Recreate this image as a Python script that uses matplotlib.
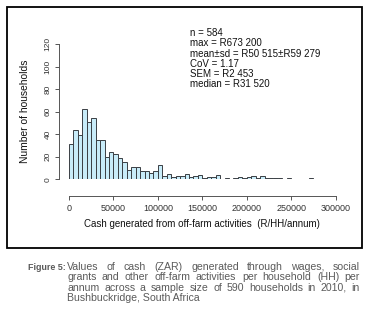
import matplotlib
matplotlib.use("Agg")
import matplotlib.pyplot as plt
from matplotlib.patches import Rectangle
import numpy as np

W, H = 365, 326

# histogram counts per 5000 R bin, 0 .. 300000
bin_width = 5000
counts = [31, 44, 39, 62, 51, 54, 35, 35, 20, 24,
          22, 19, 15, 8, 11, 11, 7, 7, 6, 7,
          13, 3, 5, 2, 3, 3, 5, 2, 3, 4,
          1, 2, 2, 4, 0, 1, 0, 1, 2, 1,
          2, 3, 1, 3, 1, 1, 1, 1, 0, 1,
          0, 0, 0, 0, 1, 0, 0, 0, 0, 0]
x_ticks = [0, 50000, 100000, 150000, 200000, 250000, 300000]
y_ticks = [0, 20, 40, 60, 80, 100, 120]

stats = ["n = 584",
         "max = R673 200",
         "mean\u00b1sd = R50 515\u00b1R59 279",
         "CoV = 1.17",
         "SEM = R2 453",
         "median = R31 520"]

caption_label = "Figure 5:"
caption_lines = ["Values of cash (ZAR) generated through wages, social",
                 "grants and other off-farm activities per household (HH) per",
                 "annum across a sample size of 590 households in 2010, in",
                 "Bushbuckridge, South Africa"]

plt.rcParams["font.family"] = ["Liberation Sans", "DejaVu Sans"]
cap_size = 7.6
cap_color = "#5a5a5a"

fig = plt.figure(figsize=(W / 100, H / 100), dpi=100)


def fx(px):
    return px / W


def fy(py):
    return 1 - py / H


# outer black frame
fig.patches.append(Rectangle((fx(7), fy(248)), fx(354.5), (248 - 7) / H,
                             transform=fig.transFigure, fill=False,
                             edgecolor="black", linewidth=1.3))

ax = fig.add_axes([fx(69), fy(179.3), fx(335.7 - 69), (179.3 - 44) / H])
edges = np.arange(len(counts)) * bin_width
ax.bar(edges, counts, width=bin_width, align="edge", color="#c8ecf9",
       edgecolor="#3a3f44", linewidth=0.7)
ax.set_xlim(0, 300000)
ax.set_ylim(0, 120)
ax.patch.set_alpha(0)
for s in ["top", "right"]:
    ax.spines[s].set_visible(False)
ax.spines["left"].set_position(("outward", 7.2))
ax.spines["bottom"].set_position(("outward", 12.2))
ax.spines["left"].set_bounds(0, 120)
ax.spines["bottom"].set_bounds(0, 300000)
for s in ["left", "bottom"]:
    ax.spines[s].set_color("#555555")
    ax.spines[s].set_linewidth(0.7)
ax.set_xticks(x_ticks)
ax.set_xticklabels([str(t) for t in x_ticks])
ax.set_yticks(y_ticks)
ax.set_yticklabels([str(t) for t in y_ticks], rotation=90, va="center")
ax.tick_params(axis="both", length=2.8, width=0.7, color="#555555",
               labelcolor="#333333", pad=2.5)
ax.tick_params(axis="x", labelsize=6.5)
ax.tick_params(axis="y", labelsize=6.0)
ax.set_xlabel("Cash generated from off-farm activities  (R/HH/annum)",
              fontsize=7, labelpad=4.5, color="#111111")
ax.set_ylabel("Number of households", fontsize=7.4, labelpad=10.5, color="#111111")

for i, line in enumerate(stats):
    fig.text(fx(190), fy(33 + i * 10.3), line, fontsize=7, va="center",
             ha="left", color="#111111")

# caption, justified by hand
fig.text(fx(28), fy(269.5), caption_label, fontsize=6.4, fontweight="bold",
         color=cap_color, va="baseline", ha="left")

renderer = fig.canvas.get_renderer()
left_px, right_px = 67, 360
for i, line in enumerate(caption_lines):
    y = fy(269.5 + i * 10.6)
    words = line.split(" ")
    if i == len(caption_lines) - 1:
        fig.text(fx(left_px), y, line, fontsize=cap_size,
                 color=cap_color, va="baseline", ha="left")
        continue
    texts = [fig.text(0, y, w, fontsize=cap_size, color=cap_color,
                      va="baseline", ha="left") for w in words]
    widths = [t.get_window_extent(renderer).width for t in texts]
    gap = (right_px - left_px - sum(widths)) / (len(words) - 1)
    x = left_px
    for t, w in zip(texts, widths):
        t.set_x(fx(x))
        x += w + gap

fig.savefig("out.png", dpi=100)
